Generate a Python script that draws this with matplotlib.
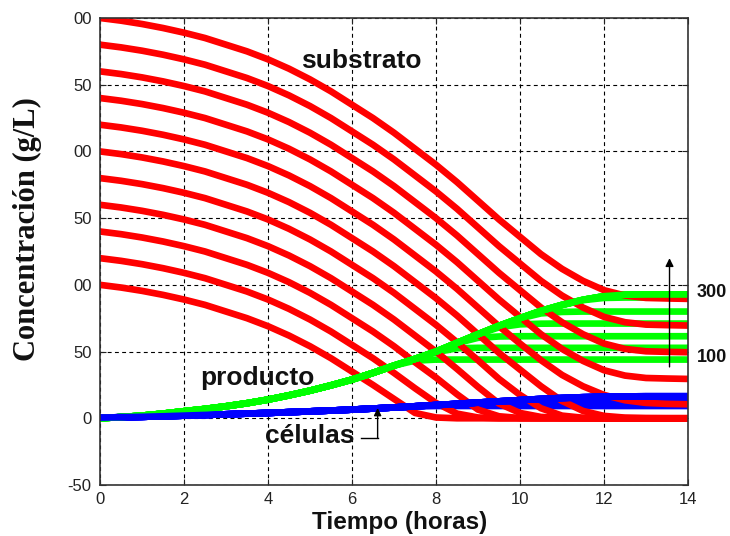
import matplotlib
matplotlib.use("Agg")
import matplotlib.pyplot as plt

plt.rcParams['font.family'] = ['Liberation Sans', 'DejaVu Sans']

# Time grid of the simulation (h)
hours = [0, 0.5, 1, 1.5, 2, 2.5, 3, 3.5, 4, 4.5, 5, 5.5, 6, 6.5, 7,
         7.5, 8, 8.5, 9, 9.5, 10, 10.5, 11, 11.5, 12, 12.5, 13, 13.5, 14]

# Initial substrate concentrations of the runs (g/L)
initial_substrate = [100, 120, 140, 160, 180, 200, 220, 240, 260, 280, 300]

# Substrate concentration (g/L), one row per run
substrate_curves = [
    [100, 98, 95.5, 92.5, 89, 85, 80, 75, 69, 62, 54, 45, 35, 25, 14.5, 4, 0.6, 0, 0, 0, 0, 0, 0, 0, 0, 0, 0, 0, 0],
    [120, 118, 115.5, 112.5, 109, 105, 100, 95, 89, 82, 74, 65, 55, 45, 34, 22.5, 11.5, 3.5, 0.6, 0, 0, 0, 0, 0, 0, 0, 0, 0, 0],
    [140, 138, 135.5, 132.5, 129, 125, 120, 115, 109, 102, 94, 85, 75, 65, 54, 42, 30.5, 18, 6.5, 1.5, 0.2, 0, 0, 0, 0, 0, 0, 0, 0],
    [160, 158, 155.5, 152.5, 149, 145, 140, 135, 129, 122, 114, 105, 95, 85, 74, 62, 50, 37, 23.5, 11, 4, 1, 0.2, 0, 0, 0, 0, 0, 0],
    [180, 178, 175.5, 172.5, 169, 165, 160, 155, 149, 142, 134, 125, 115, 105, 94, 82, 70, 57, 43.5, 29.5, 17.5, 7.5, 2, 0.4, 0, 0, 0, 0, 0],
    [200, 198, 195.5, 192.5, 189, 185, 180, 175, 169, 162, 154, 145, 135, 125, 114, 102, 90, 77, 63, 49, 36.5, 24, 13, 5.5, 1.8, 0.5, 0.1, 0, 0],
    [220, 218, 215.5, 212.5, 209, 205, 200, 195, 189, 182, 174, 165, 155, 145, 134, 122, 110, 97, 83, 69, 56, 43.5, 32.5, 24, 17.5, 13.5, 11.5, 10.8, 10.5],
    [240, 238, 235.5, 232.5, 229, 225, 220, 215, 209, 202, 194, 185, 175, 165, 154, 142, 130, 117, 103, 89, 76, 63, 52, 43, 36, 32, 30.2, 29.8, 29.5],
    [260, 258, 255.5, 252.5, 249, 245, 240, 235, 229, 222, 214, 205, 195, 185, 174, 162, 150, 137, 123, 109, 96, 83, 72, 63, 56, 52, 50.2, 49.8, 49.5],
    [280, 278, 275.5, 272.5, 269, 265, 260, 255, 249, 242, 234, 225, 215, 205, 194, 182, 170, 157, 143, 129, 116, 103, 92, 83, 76, 72, 70.2, 69.8, 69.5],
    [300, 298, 295.5, 292.5, 289, 285, 280, 275, 269, 262, 254, 245, 235, 225, 214, 202, 190, 177, 163, 149, 136, 123, 112, 103, 96, 92, 90.2, 89.8, 89.5],
]

# Product concentration (g/L), one row per run
product_curves = [
    [0, 0.9, 2.0, 3.5, 5.3, 7.0, 9.0, 11.3, 14.0, 17.2, 20.7, 24.7, 29.0, 34.0, 39.5, 43.2, 44.0, 44.0, 44.0, 44.0, 44.0, 44.0, 44.0, 44.0, 44.0, 44.0, 44.0, 44.0, 44.0],
    [0, 0.9, 2.0, 3.5, 5.3, 7.0, 9.0, 11.3, 14.0, 17.2, 20.7, 24.7, 29.0, 34.0, 39.5, 44.5, 49.5, 52.5, 52.8, 52.8, 52.8, 52.8, 52.8, 52.8, 52.8, 52.8, 52.8, 52.8, 52.8],
    [0, 0.9, 2.0, 3.5, 5.3, 7.0, 9.0, 11.3, 14.0, 17.2, 20.7, 24.7, 29.0, 34.0, 39.5, 44.5, 50.0, 56.3, 60.3, 61.3, 61.5, 61.5, 61.5, 61.5, 61.5, 61.5, 61.5, 61.5, 61.5],
    [0, 0.9, 2.0, 3.5, 5.3, 7.0, 9.0, 11.3, 14.0, 17.2, 20.7, 24.7, 29.0, 34.0, 39.5, 44.5, 50.0, 56.5, 62.8, 68.2, 70.4, 70.9, 71.0, 71.0, 71.0, 71.0, 71.0, 71.0, 71.0],
    [0, 0.9, 2.0, 3.5, 5.3, 7.0, 9.0, 11.3, 14.0, 17.2, 20.7, 24.7, 29.0, 34.0, 39.5, 44.5, 50.0, 56.5, 63.0, 69.3, 74.8, 78.6, 79.7, 80.0, 80.0, 80.0, 80.0, 80.0, 80.0],
    [0, 0.9, 2.0, 3.5, 5.3, 7.0, 9.0, 11.3, 14.0, 17.2, 20.7, 24.7, 29.0, 34.0, 39.5, 44.5, 50.0, 56.5, 63.0, 69.3, 75.0, 80.5, 84.8, 88.5, 90.2, 90.5, 90.5, 90.5, 90.5],
    [0, 0.9, 2.0, 3.5, 5.3, 7.0, 9.0, 11.3, 14.0, 17.2, 20.7, 24.7, 29.0, 34.0, 39.5, 44.5, 50.0, 56.5, 63.0, 69.3, 75.0, 80.5, 85.0, 88.8, 91.5, 92.6, 92.8, 92.8, 92.8],
    [0, 0.9, 2.0, 3.5, 5.3, 7.0, 9.0, 11.3, 14.0, 17.2, 20.7, 24.7, 29.0, 34.0, 39.5, 44.5, 50.0, 56.5, 63.0, 69.3, 75.0, 80.5, 85.0, 88.8, 91.5, 92.6, 92.8, 92.8, 92.8],
    [0, 0.9, 2.0, 3.5, 5.3, 7.0, 9.0, 11.3, 14.0, 17.2, 20.7, 24.7, 29.0, 34.0, 39.5, 44.5, 50.0, 56.5, 63.0, 69.3, 75.0, 80.5, 85.0, 88.8, 91.5, 92.6, 92.8, 92.8, 92.8],
    [0, 0.9, 2.0, 3.5, 5.3, 7.0, 9.0, 11.3, 14.0, 17.2, 20.7, 24.7, 29.0, 34.0, 39.5, 44.5, 50.0, 56.5, 63.0, 69.3, 75.0, 80.5, 85.0, 88.8, 91.5, 92.6, 92.8, 92.8, 92.8],
    [0, 0.9, 2.0, 3.5, 5.3, 7.0, 9.0, 11.3, 14.0, 17.2, 20.7, 24.7, 29.0, 34.0, 39.5, 44.5, 50.0, 56.5, 63.0, 69.3, 75.0, 80.5, 85.0, 88.8, 91.5, 92.6, 92.8, 92.8, 92.8],
]

# Biomass concentration (g/L), one row per run
cell_curves = [
    [0.5, 0.8, 1.1, 1.5, 2.0, 2.5, 3.0, 3.5, 4.0, 4.6, 5.2, 5.8, 6.5, 7.3, 8.1, 8.9, 9.2, 9.2, 9.2, 9.2, 9.2, 9.2, 9.2, 9.2, 9.2, 9.2, 9.2, 9.2, 9.2],
    [0.5, 0.8, 1.1, 1.5, 2.0, 2.5, 3.0, 3.5, 4.0, 4.6, 5.2, 5.8, 6.5, 7.3, 8.1, 9.0, 9.9, 10.5, 10.6, 10.6, 10.6, 10.6, 10.6, 10.6, 10.6, 10.6, 10.6, 10.6, 10.6],
    [0.5, 0.8, 1.1, 1.5, 2.0, 2.5, 3.0, 3.5, 4.0, 4.6, 5.2, 5.8, 6.5, 7.3, 8.1, 9.0, 9.9, 10.8, 11.6, 11.9, 12.0, 12.0, 12.0, 12.0, 12.0, 12.0, 12.0, 12.0, 12.0],
    [0.5, 0.8, 1.1, 1.5, 2.0, 2.5, 3.0, 3.5, 4.0, 4.6, 5.2, 5.8, 6.5, 7.3, 8.1, 9.0, 9.9, 10.8, 11.8, 12.6, 13.1, 13.3, 13.3, 13.3, 13.3, 13.3, 13.3, 13.3, 13.3],
    [0.5, 0.8, 1.1, 1.5, 2.0, 2.5, 3.0, 3.5, 4.0, 4.6, 5.2, 5.8, 6.5, 7.3, 8.1, 9.0, 9.9, 10.8, 11.8, 12.7, 13.6, 14.3, 14.55, 14.6, 14.6, 14.6, 14.6, 14.6, 14.6],
    [0.5, 0.8, 1.1, 1.5, 2.0, 2.5, 3.0, 3.5, 4.0, 4.6, 5.2, 5.8, 6.5, 7.3, 8.1, 9.0, 9.9, 10.8, 11.8, 12.7, 13.6, 14.5, 15.2, 15.7, 15.85, 15.9, 15.9, 15.9, 15.9],
    [0.5, 0.8, 1.1, 1.5, 2.0, 2.5, 3.0, 3.5, 4.0, 4.6, 5.2, 5.8, 6.5, 7.3, 8.1, 9.0, 9.9, 10.8, 11.8, 12.7, 13.6, 14.5, 15.2, 15.8, 16.2, 16.4, 16.5, 16.5, 16.5],
    [0.5, 0.8, 1.1, 1.5, 2.0, 2.5, 3.0, 3.5, 4.0, 4.6, 5.2, 5.8, 6.5, 7.3, 8.1, 9.0, 9.9, 10.8, 11.8, 12.7, 13.6, 14.5, 15.2, 15.8, 16.2, 16.4, 16.5, 16.5, 16.5],
    [0.5, 0.8, 1.1, 1.5, 2.0, 2.5, 3.0, 3.5, 4.0, 4.6, 5.2, 5.8, 6.5, 7.3, 8.1, 9.0, 9.9, 10.8, 11.8, 12.7, 13.6, 14.5, 15.2, 15.8, 16.2, 16.4, 16.5, 16.5, 16.5],
    [0.5, 0.8, 1.1, 1.5, 2.0, 2.5, 3.0, 3.5, 4.0, 4.6, 5.2, 5.8, 6.5, 7.3, 8.1, 9.0, 9.9, 10.8, 11.8, 12.7, 13.6, 14.5, 15.2, 15.8, 16.2, 16.4, 16.5, 16.5, 16.5],
    [0.5, 0.8, 1.1, 1.5, 2.0, 2.5, 3.0, 3.5, 4.0, 4.6, 5.2, 5.8, 6.5, 7.3, 8.1, 9.0, 9.9, 10.8, 11.8, 12.7, 13.6, 14.5, 15.2, 15.8, 16.2, 16.4, 16.5, 16.5, 16.5],
]

x_ticks = [0, 2, 4, 6, 8, 10, 12, 14]
x_tick_labels = ['0', '2', '4', '6', '8', '10', '12', '14']
y_ticks = [-50, 0, 50, 100, 150, 200, 250, 300]
y_tick_labels = ['-50', '0', '50', '00', '50', '00', '50', '00']

fig = plt.figure(figsize=(7.30, 5.36), dpi=100)
ax = fig.add_axes([100 / 730, 1 - 485 / 536, 588 / 730, 467 / 536])

# One run after another: substrate, product, cells
line_width = 4.8
for s_row, p_row, x_row in zip(substrate_curves, product_curves, cell_curves):
    ax.plot(hours, s_row, color='#ff0000', lw=line_width, solid_joinstyle='round')
    ax.plot(hours, p_row, color='#00ff00', lw=line_width, solid_joinstyle='round')
    ax.plot(hours, x_row, color='#0000ff', lw=line_width, solid_joinstyle='round')

ax.set_xlim(0, 14)
ax.set_ylim(-50, 300)
ax.set_xticks(x_ticks)
ax.set_xticklabels(x_tick_labels)
ax.set_yticks(y_ticks)
ax.set_yticklabels(y_tick_labels)
ax.tick_params(direction='in', length=4, width=0.8, labelsize=12,
               top=True, right=True, colors='#222222')
ax.tick_params(axis='y', pad=6)
ax.tick_params(axis='x', pad=5)
ax.grid(True, color='black', linestyle=(0, (3.5, 3)), lw=0.8)
ax.set_axisbelow(True)
for sp in ax.spines.values():
    sp.set_color('#333333')
    sp.set_linewidth(1.2)

fig.text(400 / 730, 1 - 522 / 536, 'Tiempo (horas)', ha='center', va='center',
         fontsize=17.5, fontweight='bold', color='#111111')
fig.text(27 / 730, 1 - 229 / 536, 'Concentración (g/L)', ha='center', va='center',
         rotation=90, fontsize=22, fontweight='bold', color='#111111',
         family=['Liberation Serif', 'DejaVu Serif'])

ax.text(6.22, 268, 'substrato', ha='center', va='center', fontsize=19,
        fontweight='bold', color='#111111')
ax.text(3.75, 30, 'producto', ha='center', va='center', fontsize=19,
        fontweight='bold', color='#111111')
ax.text(5.0, -13, 'células', ha='center', va='center', fontsize=19,
        fontweight='bold', color='#111111')

# Pointer from the "células" label up to the biomass curves
ax.plot([6.22, 6.61], [-14.5, -14.5], color='black', lw=1.0)
ax.annotate('', xy=(6.61, 7.7), xytext=(6.61, -14.8),
            arrowprops=dict(arrowstyle='-|>', color='black', lw=1.0,
                            mutation_scale=11, shrinkA=0, shrinkB=0))

# Direction of increasing initial substrate
ax.annotate('', xy=(13.56, 120), xytext=(13.56, 38.5),
            arrowprops=dict(arrowstyle='-|>', color='black', lw=1.0,
                            mutation_scale=12, shrinkA=0, shrinkB=0))
ax.text(14.2, 94, str(initial_substrate[-1]), ha='left', va='center',
        fontsize=13, fontweight='bold', color='#111111', clip_on=False)
ax.text(14.2, 45.5, str(initial_substrate[0]), ha='left', va='center',
        fontsize=13, fontweight='bold', color='#111111', clip_on=False)

fig.savefig('out.png', dpi=100)
